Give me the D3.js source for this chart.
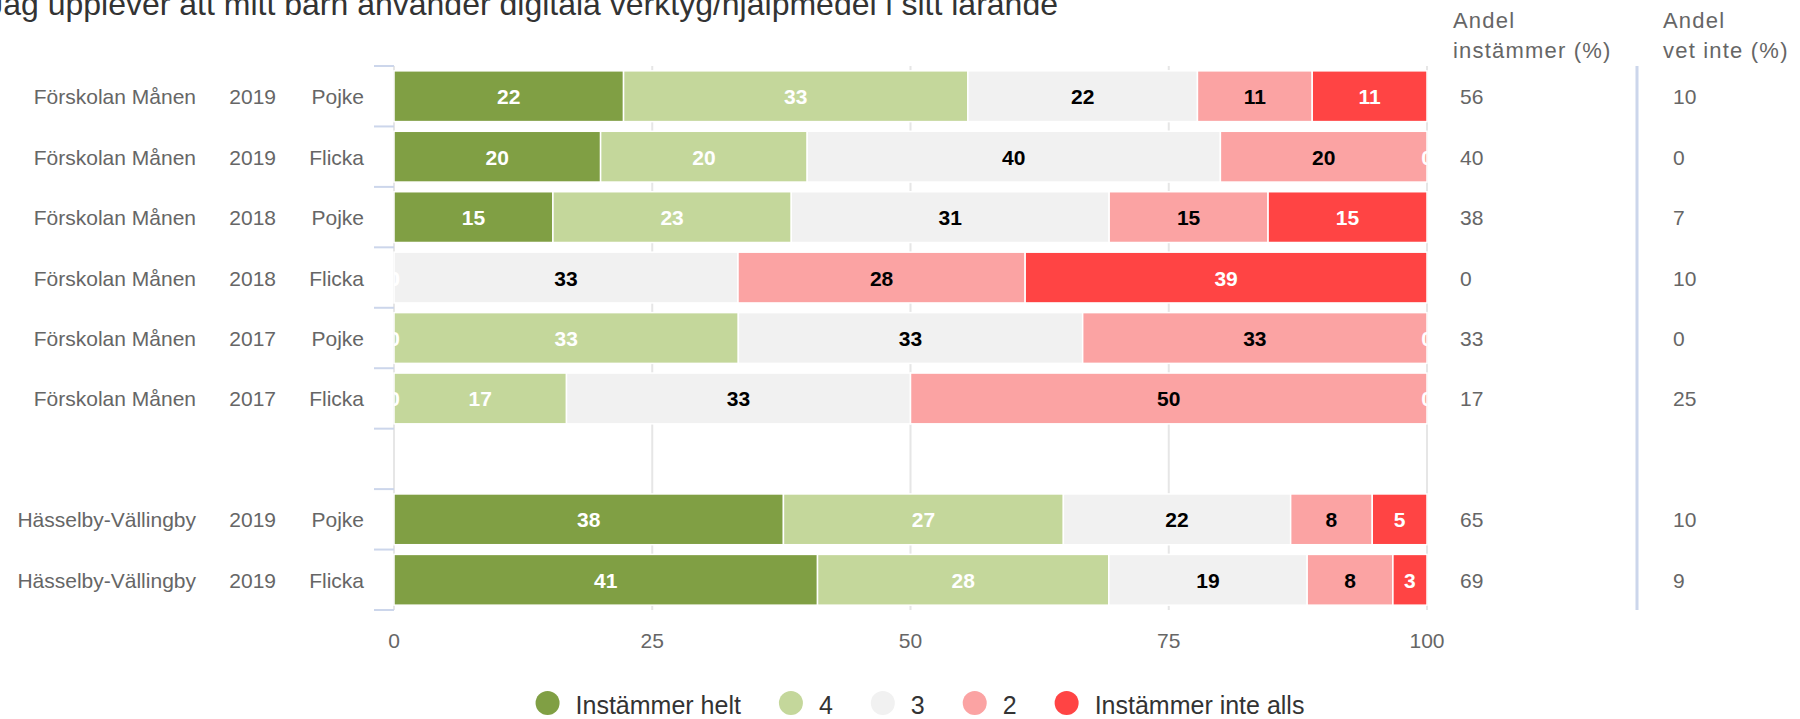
<!DOCTYPE html>
<html>
<head>
<meta charset="utf-8">
<script src="https://cdn.jsdelivr.net/npm/d3@7"></script>
<style>
  body { margin: 0; background: #fff; }
  svg { display: block; font-family: "Liberation Sans", Arial, sans-serif; }
</style>
</head>
<body>
<svg id="chart"></svg>
<script>
var width = 1800,
    height = 719;

var title = "Jag upplever att mitt barn använder digitala verktyg/hjälpmedel i sitt lärande";

// rader (tom rad skiljer förskolan från stadsdelen)
var schools = ["Förskolan Månen", "Förskolan Månen", "Förskolan Månen", "Förskolan Månen",
               "Förskolan Månen", "Förskolan Månen", "", "Hässelby-Vällingby", "Hässelby-Vällingby"];
var years = ["2019", "2019", "2018", "2018", "2017", "2017", "", "2019", "2019"];
var genders = ["Pojke", "Flicka", "Pojke", "Flicka", "Pojke", "Flicka", "", "Pojke", "Flicka"];

var seriesNames = ["Instämmer helt", "4", "3", "2", "Instämmer inte alls"];
var seriesColors = ["#809f44", "#c4d79b", "#f1f1f1", "#fba3a3", "#ff4444"];
var labelColors = ["#fff", "#fff", "#000", "#000", "#fff"];

// andelar i procent (etiketterna visar avrundat värde)
var instammerHelt     = [22.2, 20, 15.4, 0, 0, 0, null, 37.7, 41.0];
var svar4             = [33.3, 20, 23.1, 0, 33.3, 16.7, null, 27.1, 28.2];
var svar3             = [22.2, 40, 30.8, 33.3, 33.3, 33.3, null, 22.0, 19.2];
var svar2             = [11.1, 20, 15.4, 27.8, 33.3, 50, null, 7.9, 8.3];
var instammerInteAlls = [11.1, 0, 15.4, 38.9, 0, 0, null, 5.3, 3.3];

var andelInstammer = [56, 40, 38, 0, 33, 17, null, 65, 69];
var andelVetInte   = [10, 0, 7, 10, 0, 25, null, 10, 9];

var xTicks = [0, 25, 50, 75, 100];

var seriesValues = [instammerHelt, svar4, svar3, svar2, instammerInteAlls];

var svg = d3.select("#chart").attr("width", width).attr("height", height);

var plotLeft = 394, plotRight = 1427, plotTop = 66, plotBottom = 610;

var x = d3.scaleLinear().domain([0, 100]).range([plotLeft, plotRight]);
var y = d3.scaleBand()
          .domain(d3.range(schools.length))
          .range([plotTop, plotBottom])
          .paddingInner(0.16)
          .paddingOuter(0.08);

// rutnät
svg.append("g")
   .selectAll("line")
   .data(xTicks)
   .join("line")
   .attr("x1", d => x(d)).attr("x2", d => x(d))
   .attr("y1", plotTop).attr("y2", plotBottom)
   .attr("stroke", "#e6e6e6")
   .attr("stroke-width", 2);

// y-axelns streck mellan raderna
var step = y.step();
svg.append("g")
   .selectAll("line")
   .data(d3.range(schools.length + 1))
   .join("line")
   .attr("x1", plotLeft - 20).attr("x2", plotLeft)
   .attr("y1", d => plotTop + d * step).attr("y2", d => plotTop + d * step)
   .attr("stroke", "#ccd6eb")
   .attr("stroke-width", 2);

// staplar
var rows = d3.range(schools.length)
  .filter(i => instammerHelt[i] !== null)
  .map(i => {
      var o = { index: i };
      seriesNames.forEach((s, k) => { o[s] = seriesValues[k][i]; });
      return o;
  });

var stack = d3.stack().keys(seriesNames).offset(d3.stackOffsetExpand);
var stacked = stack(rows);

svg.append("clipPath")
   .attr("id", "plot-clip")
   .append("rect")
   .attr("x", plotLeft).attr("y", plotTop)
   .attr("width", plotRight - plotLeft).attr("height", plotBottom - plotTop);

var bars = svg.append("g");
stacked.forEach((layer, k) => {
    bars.append("g")
        .selectAll("rect")
        .data(layer.filter(d => d[1] > d[0]))
        .join("rect")
        .attr("x", d => x(d[0] * 100))
        .attr("width", d => x(d[1] * 100) - x(d[0] * 100))
        .attr("y", d => y(d.data.index))
        .attr("height", y.bandwidth())
        .attr("fill", seriesColors[k])
        .attr("stroke", "#fff")
        .attr("stroke-width", 1.5);
});

var labels = svg.append("g").attr("clip-path", "url(#plot-clip)");
stacked.forEach((layer, k) => {
    labels.append("g")
          .selectAll("text")
          .data(layer)
          .join("text")
          .attr("x", d => x((d[0] + d[1]) / 2 * 100))
          .attr("y", d => y(d.data.index) + y.bandwidth() / 2 + 8)
          .attr("text-anchor", "middle")
          .attr("font-size", 21)
          .attr("font-weight", "bold")
          .attr("fill", labelColors[k])
          .text(d => Math.round(d.data[seriesNames[k]]));
});

// kategorietiketter till vänster
var rowY = i => y(i) + y.bandwidth() / 2 + 8;
var leftCols = [{ vals: schools, x: 196 }, { vals: years, x: 276 }, { vals: genders, x: 364 }];
leftCols.forEach(c => {
    svg.append("g")
       .selectAll("text")
       .data(c.vals)
       .join("text")
       .attr("x", c.x)
       .attr("y", (d, i) => rowY(i))
       .attr("text-anchor", "end")
       .attr("font-size", 21)
       .attr("fill", "#666")
       .text(d => d);
});

// x-axelns etiketter
svg.append("g")
   .selectAll("text")
   .data(xTicks)
   .join("text")
   .attr("x", d => x(d))
   .attr("y", 648)
   .attr("text-anchor", "middle")
   .attr("font-size", 21)
   .attr("fill", "#666")
   .text(d => d);

// kolumner till höger
var rightCols = [
    { head: ["Andel", "instämmer (%)"], vals: andelInstammer, hx: 1453, vx: 1460 },
    { head: ["Andel", "vet inte (%)"], vals: andelVetInte, hx: 1663, vx: 1673 }
];
rightCols.forEach(c => {
    svg.append("g")
       .selectAll("text")
       .data(c.head)
       .join("text")
       .attr("x", c.hx)
       .attr("y", (d, i) => 28 + i * 30)
       .attr("font-size", 22)
       .attr("letter-spacing", 1.2)
       .attr("fill", "#666")
       .text(d => d);
    svg.append("g")
       .selectAll("text")
       .data(c.vals)
       .join("text")
       .attr("x", c.vx)
       .attr("y", (d, i) => rowY(i))
       .attr("font-size", 21)
       .attr("fill", "#666")
       .text(d => d === null ? "" : d);
});

svg.append("line")
   .attr("x1", 1637).attr("x2", 1637)
   .attr("y1", plotTop).attr("y2", plotBottom)
   .attr("stroke", "#ccd6eb")
   .attr("stroke-width", 3);

// rubrik, avskuren i vänsterkanten som i originalet
svg.append("text")
   .attr("x", 1058)
   .attr("y", 15)
   .attr("text-anchor", "end")
   .attr("fill", "#333")
   .attr("font-size", 32)
   .text(title);

// legend
var legend = svg.append("g");
var lx = 0, itemGap = 38;
seriesNames.forEach((s, k) => {
    var item = legend.append("g").attr("transform", `translate(${lx},0)`);
    item.append("circle").attr("cx", 12).attr("cy", 0).attr("r", 12).attr("fill", seriesColors[k]);
    var t = item.append("text")
                .attr("x", 40)
                .attr("y", 11)
                .attr("font-size", 25)
                .attr("fill", "#333")
                .text(s);
    lx += 40 + t.node().getComputedTextLength() + itemGap;
});
var legendWidth = lx - itemGap;
legend.attr("transform", `translate(${920 - legendWidth / 2},703)`);
</script>
</body>
</html>
